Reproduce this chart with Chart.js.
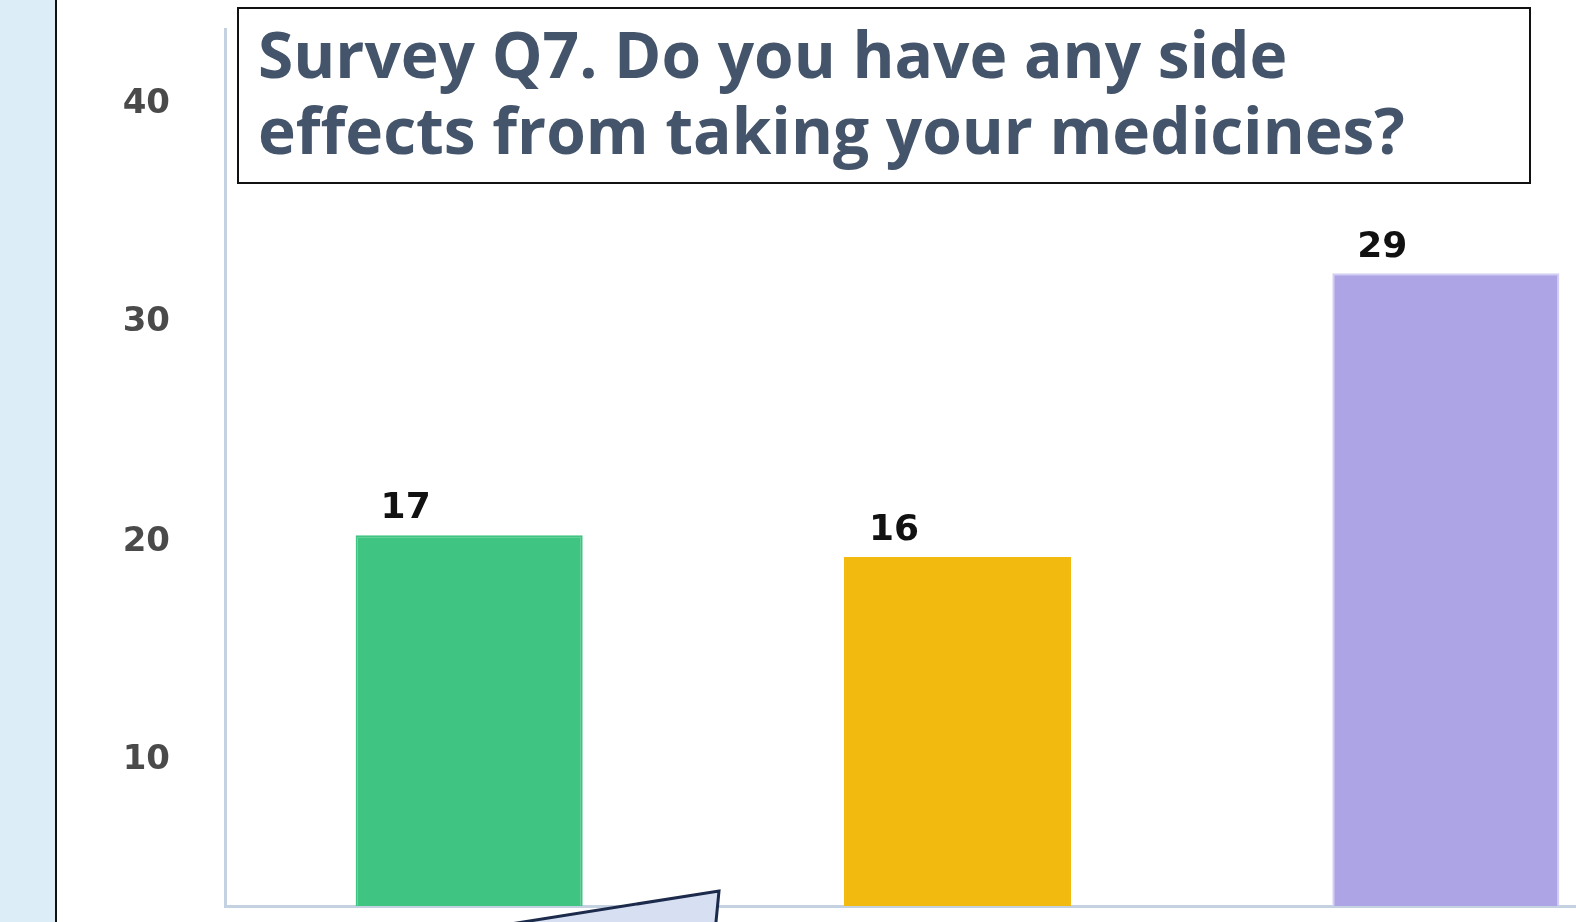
<!DOCTYPE html>
<html><head><meta charset="utf-8">
<script src="https://cdn.jsdelivr.net/npm/chart.js@4/dist/chart.umd.min.js"></script>
<style>
html,body{margin:0;padding:0;width:1576px;height:922px;overflow:hidden;background:#fff;}
#strip{position:absolute;left:0;top:0;width:55px;height:922px;background:#ddedf8;border-right:2px solid #111;}
#c{position:absolute;left:0;top:0;}
#title{position:absolute;left:237px;top:7px;width:1294px;height:177px;box-sizing:border-box;border:2px solid #111;background:#fff;font-family:"Open Sans";font-weight:700;font-size:64px;line-height:76px;color:#44546a;padding:7px 0 0 19px;white-space:nowrap;}
svg{position:absolute;left:0;top:0;}
</style></head>
<body>
<div id="strip"></div>
<canvas id="c" width="1690" height="922"></canvas>
<div id="title">Survey Q7. Do you have any side<br>effects from taking your medicines?</div>
<svg width="1576" height="922"><polygon points="460,932 719,891 715,932" fill="#d7e0f3" stroke="#1c2b4b" stroke-width="3"/></svg>
<script>
const categories = ['Yes', 'No', 'Not sure'];
const values = [17, 16, 29];
const barColors = ['#40c482', '#f2b90f', '#aca4e4'];
const barBorders = ['#40c482', '#f2b90f', '#d3cff2'];
const yTickValues = [6.7, 16.7, 26.75, 36.77];
const yTickLabels = ['10', '20', '30', '40'];

const barLabels = {
  id: 'barLabels',
  afterDatasetsDraw(chart) {
    const ctx = chart.ctx;
    const meta = chart.getDatasetMeta(0);
    ctx.save();
    ctx.font = 'bold 36px "DejaVu Sans"';
    ctx.fillStyle = '#111';
    ctx.textAlign = 'center';
    ctx.textBaseline = 'middle';
    meta.data.forEach((bar, i) => {
      const left = bar.x - bar.width / 2;
      ctx.fillText(String(values[i]), left + 50, bar.y - 26);
    });
    ctx.restore();
  }
};

new Chart(document.getElementById('c'), {
  type: 'bar',
  data: {
    labels: categories,
    datasets: [{
      data: values,
      backgroundColor: barColors,
      borderColor: barBorders,
      borderWidth: 2,
      barPercentage: 0.465,
      categoryPercentage: 1
    }]
  },
  options: {
    responsive: false,
    animation: false,
    devicePixelRatio: 1,
    layout: { autoPadding: false, padding: { top: 29, bottom: 16, left: 0, right: 0 } },
    plugins: { legend: { display: false }, tooltip: { enabled: false }, title: { display: false } },
    scales: {
      x: {
        grid: { display: false, drawTicks: false },
        border: { display: true, color: '#c3d1e0', width: 3 },
        ticks: { display: false },
        afterFit(s) { s.height = 0; s.paddingLeft = 0; s.paddingRight = 0; s.paddingTop = 0; s.paddingBottom = 0; }
      },
      y: {
        min: 0,
        max: 40.2,
        grid: { display: false, drawTicks: false },
        border: { display: true, color: '#c3d1e0', width: 3 },
        afterFit(s) { s.width = 225; s.paddingTop = 0; s.paddingBottom = 0; s.paddingLeft = 0; s.paddingRight = 0; },
        afterBuildTicks(s) { s.ticks = yTickValues.map(v => ({ value: v })); },
        ticks: {
          autoSkip: false,
          padding: 55,
          color: '#4a4a4a',
          font: { family: 'DejaVu Sans', size: 34, weight: 'bold' },
          callback: (v, i) => yTickLabels[i]
        }
      }
    }
  },
  plugins: [barLabels]
});
</script>
</body></html>
